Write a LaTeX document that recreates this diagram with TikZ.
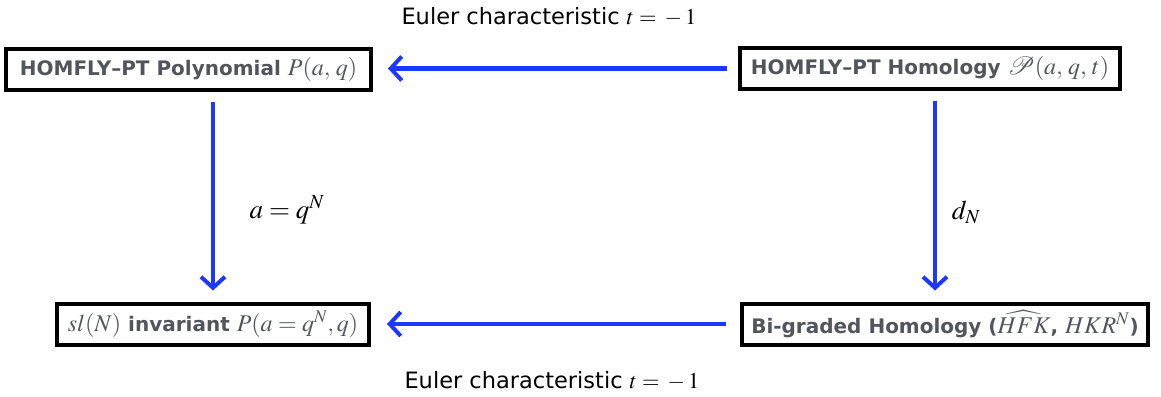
\documentclass[tikz,border=0pt]{standalone}
\usepackage{mathptmx}
\usepackage{fontspec}
\usepackage{mathrsfs}
\usetikzlibrary{arrows.meta}
\newfontfamily\bfont{DejaVu Sans}
\newcommand\mth[1]{{\fontsize{24}{28}\selectfont$#1$}}
\definecolor{arrowblue}{RGB}{28,56,255}
\definecolor{boxtext}{RGB}{82,86,92}
\begin{document}
\begin{tikzpicture}[x=1pt,y=-1pt,
  box/.style={draw=black, line width=4pt, fill=white, text=boxtext,
    font=\bfont\bfseries\fontsize{20}{24}\selectfont, inner sep=0pt,
    minimum height=41pt, anchor=center},
  arr/.style={draw=arrowblue, line width=4pt,
    -{Straight Barb[length=11pt, width=24pt, line width=4pt]}},
  eul/.style={font=\bfont\fontsize{22.5}{26}\selectfont, text=black, inner sep=0pt},
  mlab/.style={font=\fontsize{27}{31}\selectfont, inner sep=0pt}]
\useasboundingbox (0,0) rectangle (1161,396);
\node[box, minimum width=365pt] (hp) at (188.5,69.5) {HOMFLY–PT Polynomial \mth{P(a,\,q)}};
\node[box, minimum width=380pt] (hh) at (930,68.5) {HOMFLY–PT Homology \mth{\mathscr{P}(a,\,q,\,t)}};
\node[box, minimum width=312pt] (sl) at (213,324) {\mth{sl(N)} invariant \mth{P(a=q^N,q)}};
\node[box, minimum width=406pt] (bg) at (945,324) {Bi-graded Homology (\mth{\widehat{HFK}}, \mth{HKR^N})};
\draw[arr, shorten <=11pt, shorten >=15pt] (hh.west) -- (hh.west -| hp.east);
\draw[arr, shorten <=14pt, shorten >=16pt] (bg.west) -- (sl.east);
\draw[arr, shorten <=10pt, shorten >=11pt] (hp.south -| sl.north) -- (sl.north);
\draw[arr, shorten <=10pt, shorten >=11pt] ([xshift=5pt]hh.south) -- ([xshift=-10pt]bg.north);
\node[eul] (e1) at (549,17) {Euler characteristic $t={}-1$};
\node[eul] (e2) at (552,381) {Euler characteristic $t={}-1$};
\node[mlab] (l1) at (287,210) {$a=q^N$};
\node[mlab] (l2) at (966,212) {$d_N$};
\end{tikzpicture}
\end{document}
